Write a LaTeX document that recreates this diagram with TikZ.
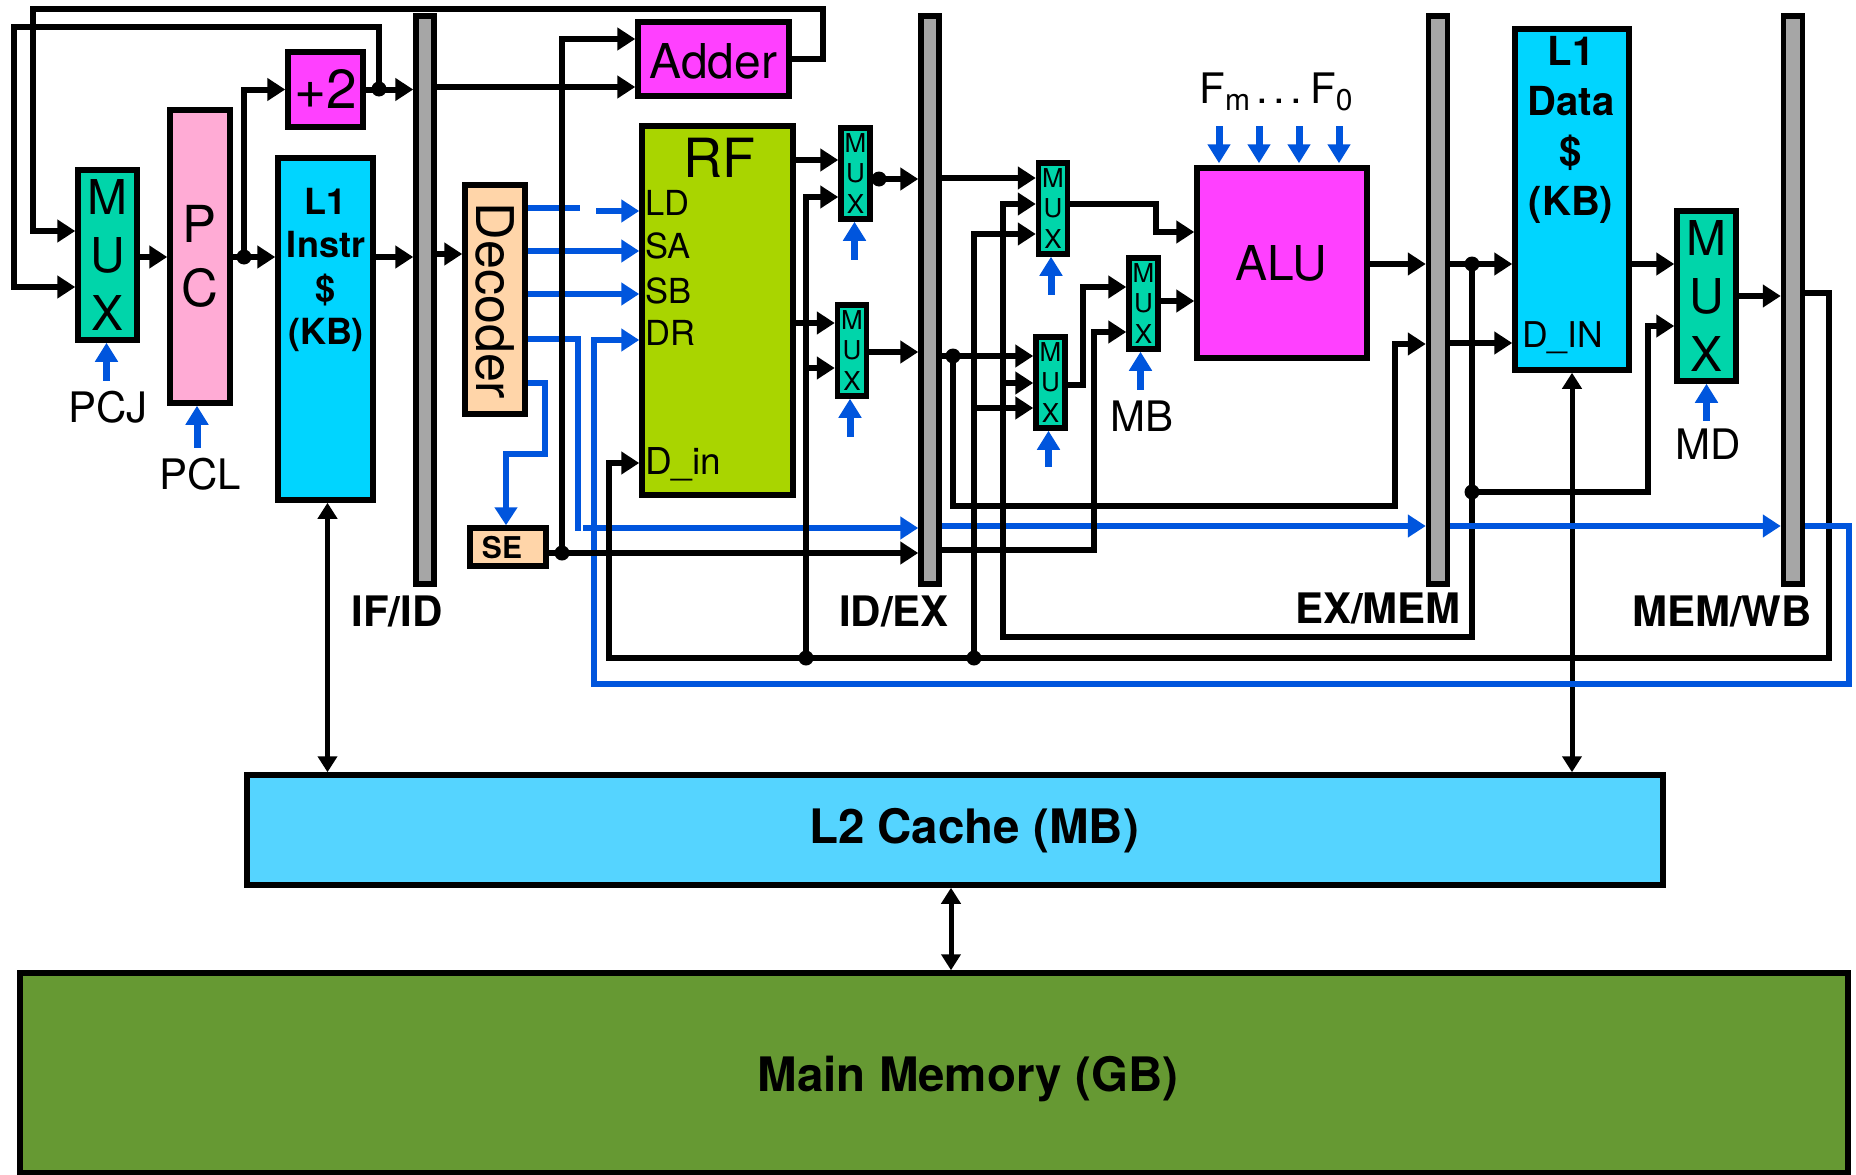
\documentclass[tikz,border=0pt]{standalone}
\usepackage{fontspec}
\setmainfont{TeX Gyre Heros}
\usetikzlibrary{arrows.meta}
\definecolor{muxgreen}{HTML}{00D5AA}
\definecolor{pcpink}{HTML}{FFABD5}
\definecolor{alumag}{HTML}{FF40FF}
\definecolor{cachecyan}{HTML}{00D5FF}
\definecolor{ltwocyan}{HTML}{55D4FF}
\definecolor{peach}{HTML}{FFD5A9}
\definecolor{rfgreen}{HTML}{A9D500}
\definecolor{memgreen}{HTML}{669933}
\definecolor{ctlblue}{HTML}{0055DD}
\definecolor{latchgray}{HTML}{A6A6A6}
\newcommand{\fsz}[2]{\fontsize{#1}{#2}\selectfont}
\tikzset{
  box/.style={draw,line width=5.5pt,inner sep=0pt},
  latch/.style={box,fill=latchgray,minimum height=568pt},
  bigmux/.style={box,fill=muxgreen,minimum width=59pt,minimum height=170pt,align=center,font=\fsz{48}{58.5}},
  tinymux/.style={box,fill=muxgreen,minimum width=29pt,minimum height=91pt,align=center,font=\fsz{26}{30.5}},
  wire/.style={line width=6pt,-{Triangle[length=18pt,width=22pt]}},
  plain/.style={line width=6pt},
  ctlwire/.style={line width=6pt,draw=ctlblue,-{Triangle[length=18pt,width=22pt]}},
  ctlplain/.style={line width=6pt,draw=ctlblue},
  ctrl/.style={line width=7pt,draw=ctlblue,-{Triangle[length=19pt,width=22pt]}},
  bus/.style={line width=5pt,{Triangle[length=16pt,width=19pt]}-{Triangle[length=16pt,width=19pt]}},
  txt/.style={inner sep=0pt},
  pinlbl/.style={inner sep=0pt,anchor=west,font=\fsz{34.5}{34.5}},
  cachelbl/.style={inner sep=0pt,align=center,font=\bfseries\fsz{36}{43.5}},
  pipelbl/.style={inner sep=0pt,font=\bfseries\fsz{42}{42}},
}
\begin{document}
\begin{tikzpicture}[x=1pt,y=-1pt]
    \useasboundingbox (0,0) rectangle (1856,1175);
    % Fetch blocks
    \node[bigmux] (muxpc) at (107.5,255) {M\\U\\X};
    \node[box,fill=pcpink,minimum width=60pt,minimum height=293pt,align=center,font=\fsz{51}{64}] (pc) at (200,256.5) {P\\C};
    \node[box,fill=alumag,minimum width=75pt,minimum height=75pt,font=\fsz{55}{55}] (plus) at (325.5,89.5) {+2};
    \node[box,fill=cachecyan,minimum width=95pt,minimum height=342pt] (l1i) at (325.5,329) {};
    \node[cachelbl] (l1itxt) at (326,270) {L1\\Instr\\\$\\(KB)};
    % Pipeline latches
    \node[latch,minimum width=18pt] (ifid) at (425,300) {};
    \node[latch,minimum width=18pt] (idex) at (930,300) {};
    \node[latch,minimum width=19pt] (exmem) at (1438,300) {};
    \node[latch,minimum width=19pt] (memwb) at (1793,300) {};
    \node[pipelbl] (ifidlbl) at (397,611) {IF/ID};
    \node[pipelbl] (idexlbl) at (894,611) {ID/EX};
    \node[pipelbl] (exmemlbl) at (1378,608) {EX/MEM};
    \node[pipelbl] (memwblbl) at (1722,611) {MEM/WB};
    % Decode blocks
    \node[box,fill=peach,minimum width=60pt,minimum height=229pt] (decoder) at (495,299.5) {};
    \node[txt,rotate=-90,font=\fsz{52}{52}] (decodertxt) at (495,301) {Decoder};
    \node[box,fill=peach,minimum width=76pt,minimum height=38pt] (se) at (508,547) {};
    \node[txt,font=\bfseries\fsz{30}{30}] (setxt) at (502,548) {SE};
    \node[box,fill=alumag,minimum width=151pt,minimum height=74pt,font=\fsz{48}{48}] (adder) at (713.5,59) {};
    \node[txt,font=\fsz{48}{48}] (addertxt) at (713.5,61) {Adder};
    \node[box,fill=rfgreen,minimum width=151pt,minimum height=369pt] (rf) at (717.5,310.5) {};
    \node[txt,font=\fsz{54}{54}] (rftxt) at (719,158) {RF};
    \node[pinlbl] (ldlbl) at (645,203) {LD};
    \node[pinlbl] (salbl) at (645,246) {SA};
    \node[pinlbl] (sblbl) at (645,291) {SB};
    \node[pinlbl] (drlbl) at (645,333) {DR};
    \node[pinlbl,font=\fsz{37}{37}] (dinlbl) at (645,464) {D\_in};
    % Execute blocks
    \node[tinymux] (muxra) at (855.5,173.5) {M\\U\\X};
    \node[tinymux] (muxrb) at (852,350.5) {M\\U\\X};
    \node[tinymux] (muxa) at (1053,208.5) {M\\U\\X};
    \node[tinymux] (muxb) at (1050.5,382.5) {M\\U\\X};
    \node[tinymux] (muxc) at (1143.5,303.5) {M\\U\\X};
    \node[box,fill=alumag,minimum width=170pt,minimum height=190pt] (alu) at (1282,263) {};
    \node[txt,font=\fsz{48}{48}] (alutxt) at (1281,263) {ALU};
    \node[txt,anchor=base,font=\fsz{42}{42}] (flbl) at (1276,103) {F\raisebox{-7pt}{\fsz{30}{30}m}\hspace{6pt}.\hspace{5.6pt}.\hspace{5.6pt}.\hspace{8pt}F\raisebox{-7pt}{\fsz{30}{30}0}};
    % Memory blocks
    \node[box,fill=cachecyan,minimum width=114pt,minimum height=341pt] (l1d) at (1572,199.5) {};
    \node[cachelbl,font=\bfseries\fsz{40}{50}] (l1dtxt) at (1571,130) {L1\\Data\\\$\\(KB)};
    \node[txt,anchor=west,font=\fsz{35.5}{35.5}] (dinlblb) at (1522,338) {D\_IN};
    \node[bigmux] (muxd) at (1706.5,296) {M\\U\\X};
    \node[box,fill=ltwocyan,minimum width=1416pt,minimum height=110pt] (ltwo) at (955,830) {};
    \node[txt,font=\bfseries\fsz{47.5}{47.5}] (ltwotxt) at (974,831) {L2 Cache (MB)};
    \node[box,fill=memgreen,minimum width=1828pt,minimum height=199.5pt] (mainmem) at (934,1072.75) {};
    \node[txt,font=\bfseries\fsz{47.5}{47.5}] (mainmemtxt) at (968,1079) {Main Memory (GB)};
    % Select labels
    \node[txt,font=\fsz{42}{42}] (pcjlbl) at (108,407) {PCJ};
    \node[txt,font=\fsz{42}{42}] (pcllbl) at (200,474) {PCL};
    \node[txt,font=\fsz{42}{42}] (mblbl) at (1142,416) {MB};
    \node[txt,font=\fsz{42}{42}] (mdlbl) at (1708,444) {MD};
    % Levels and bends
    \coordinate (jplus) at (379,89);
    \coordinate (jpc) at (244,257);
    \coordinate (jse) at (562,553);
    \coordinate (jrf) at (806,658);
    \coordinate (jfw) at (974,658);
    \coordinate (jb) at (953,356);
    \coordinate (jmem) at (1472,264);
    \coordinate (jmd) at (1472,492);
    \coordinate (topright) at (823,9);
    \coordinate (topleft) at (33,9);
    \coordinate (fbleft) at (14,27);
    \coordinate (ctlcorner) at (1849,684);
    \coordinate (ctlleft) at (594,684);
    \coordinate (buscorner) at (1829,658);
    \coordinate (busleft) at (609,658);
    \coordinate (memfw) at (1003,637);
    \coordinate (exbend) at (1395,506);
    % Control lines below the data wires
    \draw[ctlplain] (decoder.east |- 0,208) -- (580,208);
    \draw[ctlwire] (596,211) -- (rf.west |- 0,211);
    \draw[ctlwire] (decoder.east |- 0,251) -- (rf.west |- 0,251);
    \draw[ctlwire] (decoder.east |- 0,294) -- (rf.west |- 0,294);
    \draw[ctlplain] (decoder.east |- 0,339) -| (578,531);
    \draw[ctlwire] (583,528) -- (idex.west |- 0,528);
    \draw[ctlwire] (idex.east |- 0,526) -- (exmem.west |- 0,526);
    \draw[ctlwire] (decoder.east |- 0,383) -| (545,454) -| ([xshift=-2pt]se.north);
    % Fetch wires
    \draw[wire] (muxpc.east |- jpc) -- (pc.west |- jpc);
    \draw[wire] (pc.east |- jpc) -- (l1i.west |- jpc);
    \draw[wire] (jpc) |- (plus.west);
    \draw[wire] (plus.east) -- (ifid.west |- plus.east);
    \draw[wire] (jplus) |- (fbleft) |- (muxpc.west |- 0,287);
    \draw[wire] (adder.east) -| (topright) -- (topleft) |- (muxpc.west |- 0,231);
    \draw[wire] (l1i.east |- jpc) -- (ifid.west |- jpc);
    \draw[wire] (ifid.east |- 0,254) -- (decoder.west |- 0,254);
    \draw[wire] (ifid.east |- 0,87) -- (adder.west |- 0,87);
    \draw[wire] (jse) |- (adder.west |- 0,39);
    % Register file wires
    \draw[wire] (rf.east |- 0,160) -- (muxra.west |- 0,160);
    \draw[wire] (rf.east |- 0,323) -- (muxrb.west |- 0,323);
    \draw[wire] (jrf) |- (muxra.west |- 0,197);
    \draw[wire] (jrf |- 0,368) -- (muxrb.west |- 0,368);
    \draw[wire] (muxra.east |- 0,179) -- (idex.west |- 0,179);
    \draw[wire] (muxrb.east |- 0,352) -- (idex.west |- 0,352);
    % Writeback and forwarding
    \draw[wire] (memwb.east |- 0,293) -| (buscorner) -- (busleft) |- (rf.west |- 0,463);
    \draw[wire] (idex.east |- 0,178) -- (muxa.west |- 0,178);
    \draw[wire] (idex.east |- jb) -- (muxb.west |- jb);
    \draw[wire] (jb) |- (exbend) |- (exmem.west |- 0,344);
    \draw[wire] (jfw) |- (muxa.west |- 0,234);
    \draw[wire] (jfw |- 0,408) -- (muxb.west |- 0,408);
    \draw[wire] (jmem) |- (memfw) |- (muxa.west |- 0,204);
    \draw[wire] (memfw |- 0,383) -- (muxb.west |- 0,383);
    \draw[wire] (muxa.east |- 0,204) -| (1156,232) -- (alu.west |- 0,232);
    \draw[wire] (muxb.east |- 0,385) -| (1083,287) -- (muxc.west |- 0,287);
    \draw[wire] (idex.east |- 0,550) -| (1094,332) -- (muxc.west |- 0,332);
    \draw[wire] (muxc.east |- 0,301) -- (alu.west |- 0,301);
    \draw[wire] (alu.east |- jmem) -- (exmem.west |- jmem);
    \draw[wire] (exmem.east |- jmem) -- (l1d.west |- jmem);
    \draw[wire] (exmem.east |- 0,343) -- (l1d.west |- 0,343);
    \draw[wire] (l1d.east |- jmem) -- (muxd.west |- jmem);
    \draw[wire] (jmd) -| (1648,326) -- (muxd.west |- 0,326);
    \draw[wire] (muxd.east |- 0,296) -- (memwb.west |- 0,296);
    % Cache links
    \draw[bus] ([xshift=2pt]l1i.south) -- ([xshift=2pt]l1i.south |- ltwo.north);
    \draw[bus] (l1d.south) -- (l1d.south |- ltwo.north);
    \draw[bus] (951,0 |- ltwo.south) -- (951,0 |- mainmem.north);
    % Control lines above the data wires
    \draw[ctlwire] (exmem.east |- 0,526) -- (memwb.west |- 0,526);
    \draw[ctlwire] (memwb.east |- 0,526) -| (ctlcorner) -- (ctlleft) |- (rf.west |- 0,340);
    % Sign extend output goes last
    \draw[wire] (se.east |- jse) -- (idex.west |- jse);
    % Junctions
    \foreach \j in {jplus,jpc,jse,jrf,jfw,jb,jmem,jmd} \fill (\j) circle (7.5pt);
    \fill (879,179) circle (7.5pt);
    % Select arrows
    \foreach \m/\l/\dx in {muxpc/38/-1,pc/42/-3,muxra/38/-1,muxrb/38/-2,muxa/38/-2,muxb/36/-2,muxc/38/-3,muxd/37/0}
      \draw[ctrl] ([xshift=\dx pt,yshift=-\l pt]\m.south) -- ([xshift=\dx pt]\m.south);
    \foreach \dx in {-63,-23,17,57}
      \draw[ctrl] ([xshift=\dx pt,yshift=39pt]alu.north) -- ([xshift=\dx pt,yshift=2pt]alu.north);
\end{tikzpicture}
\end{document}
